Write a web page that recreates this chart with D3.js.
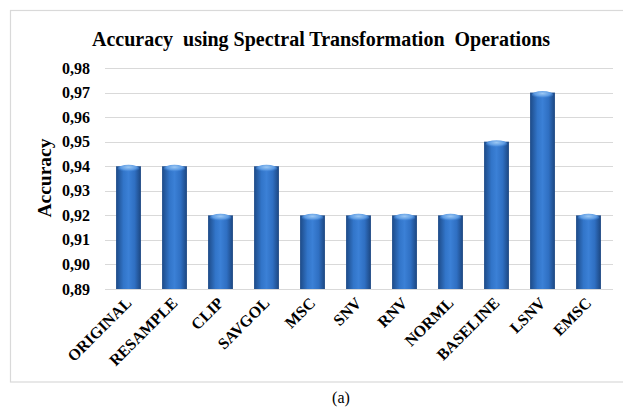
<!DOCTYPE html>
<html lang="en">
<head>
<meta charset="UTF-8">
<style>
  * { margin: 0; padding: 0; }
  body { background: #fff; width: 623px; height: 409px; overflow: hidden; }
  svg { display: block; }
</style>
</head>
<body>
<svg width="623" height="409"></svg>
<script src="https://cdn.jsdelivr.net/npm/d3@7/dist/d3.min.js"></script>
<script>
// Data
const categories = ['ORIGINAL', 'RESAMPLE', 'CLIP', 'SAVGOL', 'MSC', 'SNV', 'RNV', 'NORML', 'BASELINE', 'LSNV', 'EMSC'];
const accuracy = [0.94, 0.94, 0.92, 0.94, 0.92, 0.92, 0.92, 0.92, 0.95, 0.97, 0.92];
const yTicks = [0.89, 0.90, 0.91, 0.92, 0.93, 0.94, 0.95, 0.96, 0.97, 0.98];
const yDomain = [0.89, 0.98];

const serif = "'Liberation Serif', 'Times New Roman', 'DejaVu Serif', serif";

const svg = d3.select('svg')
  .attr('font-family', serif)
  .attr('font-weight', 'bold');

// Chart frame
svg.append('rect')
  .attr('x', 10.5).attr('y', 10.5)
  .attr('width', 620).attr('height', 371.5)
  .attr('fill', '#fff')
  .attr('stroke', '#d9d9d9')
  .attr('stroke-width', 1.2);

// Bar shading
const defs = svg.append('defs');
const grad = defs.append('linearGradient').attr('id', 'barGrad').attr('x1', 0).attr('x2', 1).attr('y1', 0).attr('y2', 0);
[['0%', '#1d4a87'], ['30%', '#3275c9'], ['50%', '#3b80d6'], ['75%', '#2f6fc2'], ['100%', '#1c4680']]
  .forEach(([o, c]) => grad.append('stop').attr('offset', o).attr('stop-color', c));
const capGrad = defs.append('radialGradient').attr('id', 'capGrad').attr('cx', '50%').attr('cy', '30%').attr('r', '60%');
[['0%', '#9cc8f4'], ['60%', '#5d9be3'], ['100%', 'rgba(59,128,214,0)']]
  .forEach(([o, c]) => capGrad.append('stop').attr('offset', o).attr('stop-color', c));

const x = d3.scaleBand().domain(categories).range([105.5, 611.5]).paddingInner(0.46).paddingOuter(0.23);
const y = d3.scaleLinear().domain(yDomain).range([289, 68]);

// Gridlines
svg.append('g')
  .selectAll('line')
  .data(yTicks)
  .join('line')
  .attr('x1', 105).attr('x2', 613)
  .attr('y1', d => Math.round(y(d)) + 0.5).attr('y2', d => Math.round(y(d)) + 0.5)
  .attr('stroke', '#d9d9d9')
  .attr('stroke-width', 1);

// Y tick labels
const fmt = d => d.toFixed(2).replace('.', ',');
svg.append('g')
  .selectAll('text')
  .data(yTicks)
  .join('text')
  .attr('x', 90)
  .attr('y', d => y(d))
  .attr('dy', '0.35em')
  .attr('text-anchor', 'end')
  .attr('font-size', 16)
  .text(fmt);

// Bars
const bars = svg.append('g');
bars.selectAll('rect.bar')
  .data(accuracy)
  .join('rect')
  .attr('class', 'bar')
  .attr('x', (d, i) => x(categories[i]))
  .attr('y', d => y(d))
  .attr('width', x.bandwidth())
  .attr('height', d => y(yDomain[0]) - y(d))
  .attr('fill', 'url(#barGrad)');

bars.selectAll('ellipse')
  .data(accuracy)
  .join('ellipse')
  .attr('cx', (d, i) => x(categories[i]) + x.bandwidth() / 2)
  .attr('cy', d => y(d) + 2.5)
  .attr('rx', x.bandwidth() / 2 - 1.5)
  .attr('ry', 4)
  .attr('fill', 'url(#capGrad)');

// X labels
svg.append('g')
  .selectAll('text')
  .data(categories)
  .join('text')
  .attr('transform', d => `translate(${x(d) + x.bandwidth() / 2 + 4},${304}) rotate(-45)`)
  .attr('text-anchor', 'end')
  .attr('font-size', 16)
  .text(d => d);

// Axis title
svg.append('text')
  .attr('transform', 'translate(51,178) rotate(-90)')
  .attr('text-anchor', 'middle')
  .attr('font-size', 19.5)
  .text('Accuracy');

// Chart title
svg.append('text')
  .attr('x', 321)
  .attr('y', 46)
  .attr('text-anchor', 'middle')
  .attr('font-size', 20)
  .attr('xml:space', 'preserve')
  .text('Accuracy  using Spectral Transformation  Operations');

// Caption
svg.append('text')
  .attr('x', 341)
  .attr('y', 403)
  .attr('text-anchor', 'middle')
  .attr('font-size', 16)
  .attr('font-weight', 'normal')
  .text('(a)');
</script>
</body>
</html>
